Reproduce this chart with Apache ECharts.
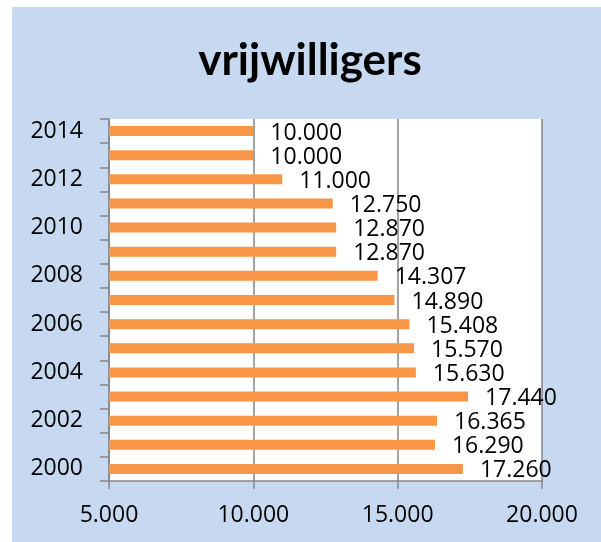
<!DOCTYPE html>
<html>
<head>
<meta charset="utf-8">
<script src="https://cdn.jsdelivr.net/npm/echarts@6/dist/echarts.min.js"></script>
<style>
html,body{margin:0;padding:0;background:#ffffff;}
#bg{position:absolute;left:12px;top:7px;width:589px;height:535px;background:#c6d9f1;}
#chart{position:absolute;left:0;top:0;width:601px;height:542px;}
</style>
</head>
<body>
<div id="bg"></div>
<div id="chart"></div>
<script>
const titleText = 'vrijwilligers';
const years = ['2000','2001','2002','2003','2004','2005','2006','2007','2008','2009','2010','2011','2012','2013','2014'];
const volunteers = [17260, 16290, 16365, 17440, 15630, 15570, 15408, 14890, 14307, 12870, 12870, 12750, 11000, 10000, 10000];
const xMin = 5000, xMax = 20000, xStep = 5000;

function nl(v){ return (v/1000).toFixed(3); }

const chart = echarts.init(document.getElementById('chart'), null, {renderer:'canvas'});
const font = "'Open Sans', 'Noto Sans', sans-serif";
chart.setOption({
  backgroundColor: 'transparent',
  animation: false,
  title: {
    text: titleText,
    left: 310,
    top: 39,
    textAlign: 'center',
    padding: 0,
    textStyle: {fontFamily: "Lato, 'Open Sans', sans-serif", fontWeight: 'bold', fontSize: 44, color: '#000'}
  },
  grid: {left: 109, right: 59, top: 119, bottom: 61, show: true, backgroundColor: '#ffffff', borderWidth: 0},
  xAxis: {
    type: 'value', min: xMin, max: xMax, interval: xStep,
    axisLine: {show: true, lineStyle: {color: '#868686', width: 1.5}},
    axisTick: {show: true, length: 8, lineStyle: {color: '#868686', width: 1.5}},
    splitLine: {show: true, lineStyle: {color: '#868686', width: 1.5}},
    axisLabel: {formatter: nl, fontFamily: font, fontSize: 23, color: '#000', margin: 23}
  },
  yAxis: {
    type: 'category', data: years,
    axisLine: {show: true, lineStyle: {color: '#868686', width: 1.5}},
    axisTick: {show: true, interval: 0, length: 9, inside: false, lineStyle: {color: '#868686', width: 1.5}},
    axisLabel: {interval: 1, fontFamily: font, fontSize: 23, color: '#000', margin: 26}
  },
  series: [{
    type: 'bar',
    data: volunteers,
    barWidth: 10,
    itemStyle: {color: '#f79646'},
    label: {
      show: true, position: 'right', distance: 17, offset: [0, 2],
      formatter: p => nl(p.value),
      fontFamily: font, fontSize: 23, color: '#000'
    }
  }]
});
</script>
</body>
</html>
